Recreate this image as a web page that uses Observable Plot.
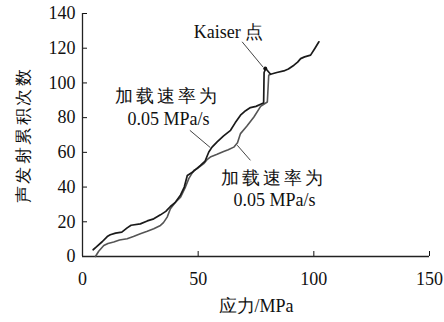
<!DOCTYPE html>
<html><head><meta charset="utf-8">
<script src="https://cdn.jsdelivr.net/npm/d3@7"></script>
<script src="https://cdn.jsdelivr.net/npm/@observablehq/plot@0.6"></script>
<style>body{margin:0;background:#fff}</style>
</head><body><div id="chart"></div>
<script>
const xTicks = [0, 50, 100, 150];
const yTicks = [0, 20, 40, 60, 80, 100, 120, 140];
const xLabel = "应力/MPa";
const yLabel = "声发射累积次数";
// curve A (darker)
const aX = [4.6,6,8.5,10.7,12,14.3,17,19.3,21,25,28,30.8,33.7,36,38,40,42.4,44,45.3,48,51,53,54.6,56,58.2,61,64,66,68.3,70.5,72.6,75,77.5,78.3,78.5,79.2,81.3,84,87,89,91.4,93,94.3,96,98.6,100.5,102.2];
const aY = [3.9,5.5,8.5,11.5,12.5,13.5,14,16.5,18,18.8,20.5,21.7,24,26,28.8,31,35.5,40,46.7,49,52.5,55,60.2,63,66,69.5,72.7,77,81.4,84,85.8,86.5,88,88.5,106,108.3,105,106,106.9,108,110.2,112,114,115,116,120,123.7];
// curve B (lighter)
const bX = [5.6,7,9.2,11,13.5,16,19.3,22,25,28,30.8,33.7,35,36.6,38,40,42.4,44.5,46,48.1,50,52.4,54,55.5,58.2,61,63,65.4,67,68.3,71,74.1,77,79.9,80.5,81.3];
const bY = [0,3,6.3,7.5,8.3,9.5,10.2,11.5,13.1,14.5,16,17.9,19.5,22.7,27.5,31,34.2,40,45,49.6,51,53.5,56,57.5,58.9,60.5,61.5,63,65.5,70.8,75,80.4,86.5,89,104.4,105];
// annotations
const notes = ["Kaiser 点", "加载速率为", "0.05 MPa/s", "加载速率为", "0.05 MPa/s"];
const noteX = [63.1, 36.7, 37.2, 82.6, 83];
const noteY = [129.3, 92.3, 79.3, 45.3, 32.3];
const leadX1 = [69.0, 46.4, 66.9];
const leadY1 = [123.7, 72.7, 64.1];
const leadX2 = [78.0, 55.3, 72.6];
const leadY2 = [109.2, 62.7, 55.4];
const kaiserX = [79.0];
const kaiserY = [108.3];

const A = aX.map((x, i) => ({x, y: aY[i]}));
const B = bX.map((x, i) => ({x, y: bY[i]}));
const N = notes.map((t, i) => ({t, x: noteX[i], y: noteY[i]}));
const L = leadX1.map((x1, i) => ({x1, y1: leadY1[i], x2: leadX2[i], y2: leadY2[i]}));
const K = kaiserX.map((x, i) => ({x, y: kaiserY[i]}));

const font = "Liberation Serif";
const plot = Plot.plot({
  width: 444, height: 322,
  marginLeft: 82, marginRight: 15, marginTop: 13, marginBottom: 66,
  style: {fontSize: "18px", color: "#111", background: "#fff"},
  x: {domain: [0, 150], ticks: xTicks},
  y: {domain: [0, 140], ticks: yTicks},
  marks: [
    Plot.axisX({ticks: xTicks, tickSize: -5, tickPadding: 21, label: null, fontSize: 18, fontFamily: font}),
    Plot.axisY({ticks: yTicks, tickSize: -5, tickPadding: 12, label: null, fontSize: 18, fontFamily: font}),
    Plot.ruleX([0], {stroke: "#222", strokeWidth: 1.3}),
    Plot.ruleY([0], {stroke: "#222", strokeWidth: 1.3}),
    Plot.line(B, {x: "x", y: "y", stroke: "#555", strokeWidth: 1.6}),
    Plot.line(A, {x: "x", y: "y", stroke: "#1a1a1a", strokeWidth: 1.7}),
    Plot.dot(K, {x: "x", y: "y", r: 2, fill: "#111"}),
    Plot.link(L, {x1: "x1", y1: "y1", x2: "x2", y2: "y2", stroke: "#444", strokeWidth: 1}),
    Plot.text(N, {x: "x", y: "y", text: "t", fontSize: 18, fill: "#111", fontFamily: font}),
    Plot.text([xLabel], {frameAnchor: "bottom", lineAnchor: "middle", dy: 50, fontSize: 18, fill: "#111", fontFamily: font}),
    Plot.text([yLabel], {frameAnchor: "left", textAnchor: "middle", lineAnchor: "middle", rotate: -90, dx: -59, fontSize: 17, fill: "#111", fontFamily: font})
  ]
});
d3.select(plot).selectAll("text").each(function() {
  const t = this.textContent;
  if (t === "加载速率为") d3.select(this).attr("letter-spacing", "3px");
  if (t === yLabel) d3.select(this).attr("letter-spacing", "2.5px");
});
document.getElementById("chart").appendChild(plot);
</script>
</body></html>
